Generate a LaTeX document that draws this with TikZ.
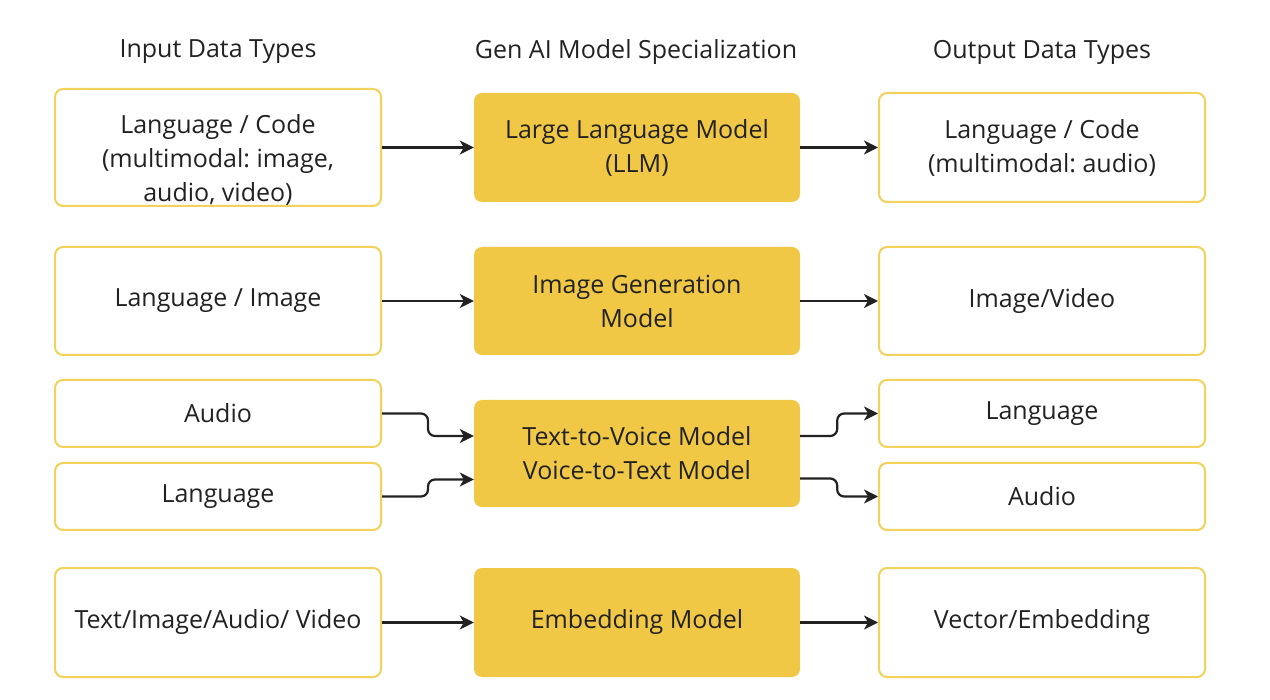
\documentclass[tikz,border=0pt]{standalone}
\usepackage{fontspec}
\setmainfont{Open Sans}
\usetikzlibrary{arrows.meta}
\definecolor{genyellow}{HTML}{F0C846}
\definecolor{boxline}{HTML}{F2D25A}
\definecolor{inktext}{HTML}{222222}
\tikzset{
    databox/.style={draw=boxline,line width=2pt,fill=white,rounded corners=8pt,
        minimum width=326pt,minimum height=108pt,align=center,text=inktext},
    modelbox/.style={fill=genyellow,rounded corners=8pt,
        minimum width=326pt,minimum height=108pt,align=center,text=inktext},
    conn/.style={line width=2.2pt,draw=inktext,-{Stealth[length=14pt,width=14pt,inset=4pt]}},
    elbowconn/.style={conn,rounded corners=7pt},
    heading/.style={text=inktext}
}
\begin{document}
\frenchspacing
\begin{tikzpicture}[x=1pt,y=-1pt]
    \fontsize{25}{34}\selectfont
    \useasboundingbox (0,0) rectangle (1270,700);
    % column headings
    \node[heading] (hin) at (218,52) {Input Data Types};
    \node[heading] (hmod) at (636,52) {Gen AI Model Specialization};
    \node[heading] (hout) at (1042,52) {Output Data Types};
    % row 1
    \node[databox,minimum height=117pt] (in1) at (218,147.5) {};
    \node[text=inktext,align=center] (in1txt) at (218,160) {Language / Code\\(multimodal: image,\\audio, video)};
    \node[modelbox,minimum height=109pt] (mod1) at (637,147.5) {Large Language Model\\(LLM)};
    \node[databox,minimum height=109pt] (out1) at (1042,147.5) {Language / Code\\(multimodal: audio)};
    % row 2
    \node[databox] (in2) at (218,301) {Language / Image};
    \node[modelbox] (mod2) at (637,301) {Image Generation\\Model};
    \node[databox] (out2) at (1042,301) {Image/Video};
    % row 3
    \node[databox,minimum height=67pt] (in3a) at (218,413.5) {Audio};
    \node[databox,minimum height=67pt] (in3b) at (218,496.5) {Language};
    \node[modelbox,minimum height=107pt] (mod3) at (637,453.5) {Text-to-Voice Model\\Voice-to-Text Model};
    \node[databox,minimum height=67pt] (out3a) at (1042,413.5) {Language};
    \node[databox,minimum height=67pt] (out3b) at (1042,496.5) {Audio};
    % row 4
    \node[databox,minimum height=109pt] (in4) at (218,622.5) {Text/Image/Audio/ Video};
    \node[modelbox,minimum height=109pt] (mod4) at (637,622.5) {Embedding Model};
    \node[databox,minimum height=109pt] (out4) at (1042,622.5) {Vector/Embedding};
    % connectors
    \draw[conn] (in1.east) -- (mod1.west);
    \draw[conn] (mod1.east) -- (out1.west);
    \draw[conn] (in2.east) -- (mod2.west);
    \draw[conn] (mod2.east) -- (out2.west);
    \draw[elbowconn] (in3a.east) -- ++(46,0) |- ([yshift=17.5pt]mod3.west);
    \draw[elbowconn] (in3b.east) -- ++(46,0) |- ([yshift=-26pt]mod3.west);
    \draw[elbowconn] ([yshift=17.5pt]mod3.east) -- ++(37,0) |- (out3a.west);
    \draw[elbowconn] ([yshift=-25pt]mod3.east) -- ++(37,0) |- (out3b.west);
    \draw[conn] (in4.east) -- (mod4.west);
    \draw[conn] (mod4.east) -- (out4.west);
\end{tikzpicture}
\end{document}
